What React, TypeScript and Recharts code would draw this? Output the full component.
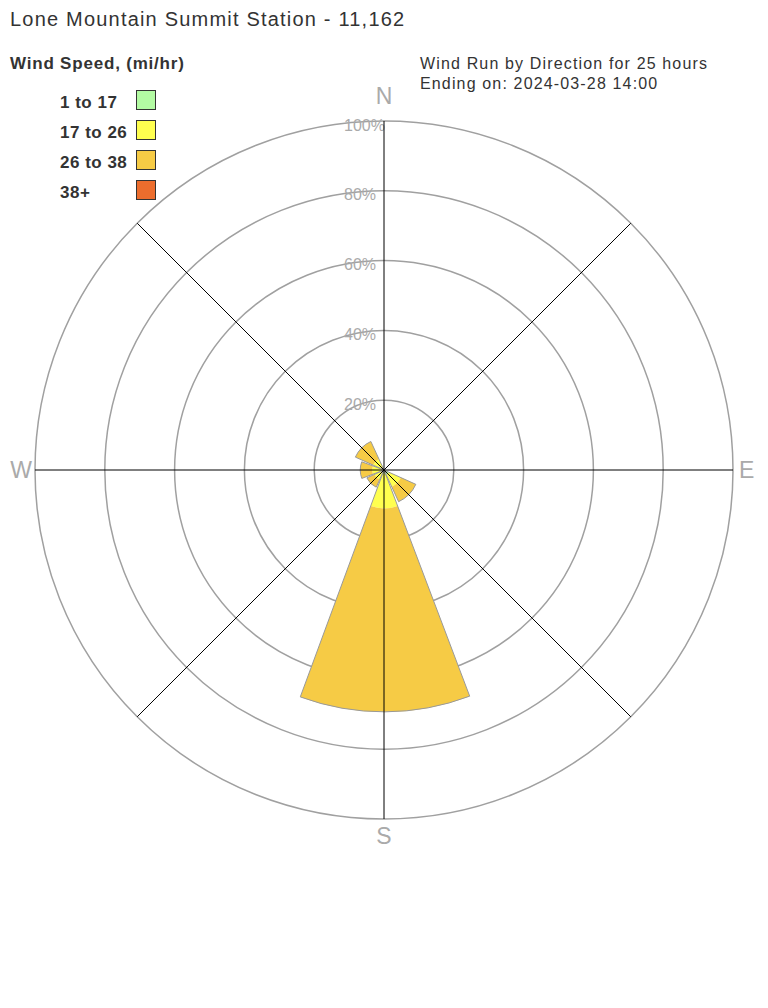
import React from 'react';
import { RadialBarChart, RadialBar, PolarGrid, PolarAngleAxis, PolarRadiusAxis } from 'recharts';

// wind run share (% of total) per direction, split by speed bin
const directions = ['N', 'NE', 'E', 'SE', 'S', 'SW', 'W', 'NW'];
const speed1to17 = [0, 0, 0, 1.5, 1, 0, 0, 0];
const speed17to26 = [0, 0, 0, 3.8, 10, 3, 3.4, 3.5];
const speed26to38 = [0, 0, 0, 4.7, 58.3, 2.4, 3.4, 5.5];
const speed38plus = [0, 0, 0, 0, 0, 0, 0, 0];
const ringTicks = [0, 20, 40, 60, 80, 100];
const compassLabels = ['N', 'E', 'S', 'W'];

const speedBins = [
    { key: 'b1', label: '1 to 17', color: '#b3fba3', values: speed1to17 },
    { key: 'b2', label: '17 to 26', color: '#ffff4f', values: speed17to26 },
    { key: 'b3', label: '26 to 38', color: '#f6cb45', values: speed26to38 },
    { key: 'b4', label: '38+', color: '#ec6d2d', values: speed38plus },
];

const data = directions.map((dir, i) => {
    const row: any = { dir };
    let total = 0;
    speedBins.forEach(b => {
        row[b.key] = b.values[i];
        total += b.values[i];
    });
    row.total = total;
    return row;
});

const FONT = '"Liberation Sans", Arial, sans-serif';

const baseProps = {
    width: 768,
    height: 1008,
    cx: 384,
    cy: 470,
    innerRadius: 0,
    outerRadius: 349,
    data,
    layout: 'centric' as const,
    barCategoryGap: '5%',
    margin: { top: 0, right: 0, bottom: 0, left: 0 },
};

// recharts centres the wedges half a band away from the axis ticks,
// so the wedge charts start 22.5deg earlier than the axis chart
const wedgeProps = { ...baseProps, startAngle: 67.5, endAngle: -292.5 };
const axisProps = { ...baseProps, startAngle: 90, endAngle: -270 };

// N/E/S/W around the outer ring
const CompassTick = (props: any) => {
    const { x, y, payload } = props;
    const v = payload.value;
    if (!compassLabels.includes(v)) return null;
    const off: Record<string, [number, number, string]> = {
        N: [0, -17, 'middle'],
        S: [0, 9, 'middle'],
        E: [-2, 0, 'start'],
        W: [5, 0, 'end'],
    };
    const [dx, dy, anchor] = off[v];
    return (
        <text x={x + dx} y={y + dy} textAnchor={anchor} dominantBaseline="central"
            fill="#aaaaaa" fontSize={23} fontFamily={FONT}>
            {v}
        </text>
    );
};

const RingTick = (props: any) => {
    const { x, y, payload } = props;
    if (payload.value === 0) return null;
    return (
        <text x={x - 40} y={y + 4} textAnchor="start" dominantBaseline="central"
            fill="#aaaaaa" fontSize={16} fontFamily={FONT}>
            {payload.value}%
        </text>
    );
};

const layer: React.CSSProperties = { position: 'absolute', left: 0, top: 0 };

const App = () => {
    return (
        <div style={{ position: 'absolute', left: 0, top: 0, width: 768, height: 1008, background: '#fff', fontFamily: FONT, color: '#333' }}>
            {/* rings + stacked wedges */}
            <div style={layer}>
                <RadialBarChart {...wedgeProps}>
                    <PolarGrid gridType="circle" radialLines={false} stroke="#a0a0a0" strokeWidth={1.5} />
                    <PolarAngleAxis dataKey="dir" type="category" tick={false} axisLine={false} tickLine={false} />
                    <PolarRadiusAxis type="number" domain={[0, 100]} ticks={ringTicks} tick={false} axisLine={false} tickLine={false} />
                    {speedBins.map(b => (
                        <RadialBar key={b.key} dataKey={b.key} stackId="a" fill={b.color} isAnimationActive={false} />
                    ))}
                </RadialBarChart>
            </div>

            {/* wedge outline + ring labels */}
            <div style={layer}>
                <RadialBarChart {...wedgeProps}>
                    <PolarAngleAxis dataKey="dir" type="category" tick={false} axisLine={false} tickLine={false} />
                    <PolarRadiusAxis type="number" domain={[0, 100]} ticks={ringTicks} angle={90} tick={<RingTick />} axisLine={false} tickLine={false} />
                    <RadialBar dataKey="total" fill="none" stroke="#999" strokeWidth={1} isAnimationActive={false} />
                </RadialBarChart>
            </div>

            {/* spokes and compass labels on top */}
            <div style={layer}>
                <RadialBarChart {...axisProps}>
                    <PolarGrid gridType="circle" polarRadius={[]} stroke="#000" strokeWidth={1} />
                    <PolarAngleAxis dataKey="dir" type="category" tick={<CompassTick />} axisLine={false} tickLine={false} />
                    <PolarRadiusAxis type="number" domain={[0, 100]} tick={false} axisLine={false} tickLine={false} />
                </RadialBarChart>
            </div>

            {/* titles */}
            <div style={{ position: 'absolute', left: 10, top: 8, fontSize: 20, letterSpacing: 1.2, whiteSpace: 'nowrap' }}>
                Lone Mountain Summit Station - 11,162
            </div>
            <div style={{ position: 'absolute', left: 10, top: 54, fontSize: 17, fontWeight: 'bold', letterSpacing: 0.8, whiteSpace: 'nowrap' }}>
                Wind Speed, (mi/hr)
            </div>
            <div style={{ position: 'absolute', left: 420, top: 54, fontSize: 16, lineHeight: '20px', letterSpacing: 1.15, whiteSpace: 'nowrap' }}>
                <div>Wind Run by Direction for 25 hours</div>
                <div>Ending on: 2024-03-28 14:00</div>
            </div>

            {/* legend */}
            {speedBins.map((b, i) => (
                <div key={b.key} style={{ position: 'absolute', left: 60, top: 90 + i * 30, height: 20 }}>
                    <span style={{ position: 'absolute', left: 0, top: 2, fontSize: 17, lineHeight: '22px', fontWeight: 'bold', letterSpacing: 0.5, whiteSpace: 'nowrap' }}>
                        {b.label}
                    </span>
                    <span style={{ position: 'absolute', left: 76, top: 0, width: 18, height: 18, background: b.color, border: '1px solid #333' }} />
                </div>
            ))}
        </div>
    );
};

export default App;
